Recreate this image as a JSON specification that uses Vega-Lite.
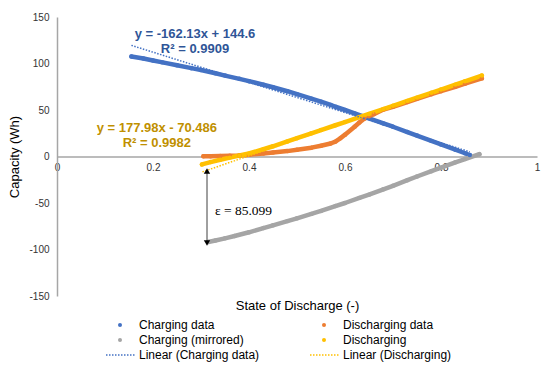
{
  "$schema": "https://vega.github.io/schema/vega-lite/v6.json",
  "width": 480,
  "height": 279,
  "autosize": {"type": "none"},
  "padding": {"left": 57, "top": 17, "right": 13, "bottom": 75},
  "background": "white",
  "config": {
    "view": {"stroke": null},
    "font": "Liberation Sans",
    "axis": {"grid": false, "ticks": false, "domainColor": "#A6A6A6", "domainWidth": 1.5, "labelFont": "Liberation Sans", "labelFontSize": 10, "labelColor": "#333333", "titleFont": "Liberation Sans", "titleFontSize": 13, "titleFontWeight": "normal", "titleColor": "#000000"}
  },
  "datasets": {
    "series": [
      {"series": "Charging data", "x": 0.155, "y": 107.5},
      {"series": "Charging data", "x": 0.18, "y": 105.3},
      {"series": "Charging data", "x": 0.2, "y": 103.2},
      {"series": "Charging data", "x": 0.22, "y": 101.2},
      {"series": "Charging data", "x": 0.25, "y": 98.2},
      {"series": "Charging data", "x": 0.28, "y": 95},
      {"series": "Charging data", "x": 0.3, "y": 93},
      {"series": "Charging data", "x": 0.33, "y": 89.5},
      {"series": "Charging data", "x": 0.35, "y": 87},
      {"series": "Charging data", "x": 0.38, "y": 83.5},
      {"series": "Charging data", "x": 0.4, "y": 81},
      {"series": "Charging data", "x": 0.43, "y": 77.2},
      {"series": "Charging data", "x": 0.45, "y": 74.5},
      {"series": "Charging data", "x": 0.48, "y": 70.2},
      {"series": "Charging data", "x": 0.5, "y": 67},
      {"series": "Charging data", "x": 0.53, "y": 62.2},
      {"series": "Charging data", "x": 0.55, "y": 59},
      {"series": "Charging data", "x": 0.57, "y": 55.5},
      {"series": "Charging data", "x": 0.58, "y": 53.5},
      {"series": "Charging data", "x": 0.6, "y": 50},
      {"series": "Charging data", "x": 0.62, "y": 46.3},
      {"series": "Charging data", "x": 0.65, "y": 41},
      {"series": "Charging data", "x": 0.68, "y": 35.5},
      {"series": "Charging data", "x": 0.7, "y": 32},
      {"series": "Charging data", "x": 0.73, "y": 26.3},
      {"series": "Charging data", "x": 0.75, "y": 22.5},
      {"series": "Charging data", "x": 0.78, "y": 16.8},
      {"series": "Charging data", "x": 0.8, "y": 13},
      {"series": "Charging data", "x": 0.83, "y": 7.3},
      {"series": "Charging data", "x": 0.85, "y": 3.5},
      {"series": "Charging data", "x": 0.86, "y": 1.5},
      {"series": "Discharging data", "x": 0.305, "y": 0.3},
      {"series": "Discharging data", "x": 0.32, "y": 0.3},
      {"series": "Discharging data", "x": 0.34, "y": 0.5},
      {"series": "Discharging data", "x": 0.36, "y": 0.8},
      {"series": "Discharging data", "x": 0.38, "y": 1.2},
      {"series": "Discharging data", "x": 0.4, "y": 2},
      {"series": "Discharging data", "x": 0.43, "y": 3.2},
      {"series": "Discharging data", "x": 0.45, "y": 4.2},
      {"series": "Discharging data", "x": 0.48, "y": 5.8},
      {"series": "Discharging data", "x": 0.5, "y": 7.2},
      {"series": "Discharging data", "x": 0.53, "y": 9.5},
      {"series": "Discharging data", "x": 0.55, "y": 11.5},
      {"series": "Discharging data", "x": 0.57, "y": 14},
      {"series": "Discharging data", "x": 0.58, "y": 16},
      {"series": "Discharging data", "x": 0.59, "y": 19.5},
      {"series": "Discharging data", "x": 0.6, "y": 23.5},
      {"series": "Discharging data", "x": 0.62, "y": 32},
      {"series": "Discharging data", "x": 0.63, "y": 36.5},
      {"series": "Discharging data", "x": 0.64, "y": 40.5},
      {"series": "Discharging data", "x": 0.65, "y": 43.3},
      {"series": "Discharging data", "x": 0.66, "y": 45.5},
      {"series": "Discharging data", "x": 0.68, "y": 50.5},
      {"series": "Discharging data", "x": 0.7, "y": 53.5},
      {"series": "Discharging data", "x": 0.73, "y": 58.5},
      {"series": "Discharging data", "x": 0.75, "y": 62},
      {"series": "Discharging data", "x": 0.78, "y": 67},
      {"series": "Discharging data", "x": 0.8, "y": 70.2},
      {"series": "Discharging data", "x": 0.83, "y": 75},
      {"series": "Discharging data", "x": 0.85, "y": 78.3},
      {"series": "Discharging data", "x": 0.885, "y": 84},
      {"series": "Charging (mirrored)", "x": 0.315, "y": -92},
      {"series": "Charging (mirrored)", "x": 0.33, "y": -90.3},
      {"series": "Charging (mirrored)", "x": 0.35, "y": -88},
      {"series": "Charging (mirrored)", "x": 0.37, "y": -85.5},
      {"series": "Charging (mirrored)", "x": 0.4, "y": -81.5},
      {"series": "Charging (mirrored)", "x": 0.43, "y": -77},
      {"series": "Charging (mirrored)", "x": 0.45, "y": -74},
      {"series": "Charging (mirrored)", "x": 0.48, "y": -69.5},
      {"series": "Charging (mirrored)", "x": 0.5, "y": -66.5},
      {"series": "Charging (mirrored)", "x": 0.53, "y": -61.7},
      {"series": "Charging (mirrored)", "x": 0.55, "y": -58.5},
      {"series": "Charging (mirrored)", "x": 0.58, "y": -53.3},
      {"series": "Charging (mirrored)", "x": 0.6, "y": -50},
      {"series": "Charging (mirrored)", "x": 0.63, "y": -44.5},
      {"series": "Charging (mirrored)", "x": 0.65, "y": -41},
      {"series": "Charging (mirrored)", "x": 0.68, "y": -35.3},
      {"series": "Charging (mirrored)", "x": 0.7, "y": -31.5},
      {"series": "Charging (mirrored)", "x": 0.73, "y": -25.5},
      {"series": "Charging (mirrored)", "x": 0.75, "y": -21.5},
      {"series": "Charging (mirrored)", "x": 0.78, "y": -15.8},
      {"series": "Charging (mirrored)", "x": 0.8, "y": -12},
      {"series": "Charging (mirrored)", "x": 0.83, "y": -6.3},
      {"series": "Charging (mirrored)", "x": 0.85, "y": -2.8},
      {"series": "Charging (mirrored)", "x": 0.88, "y": 2.5},
      {"series": "Discharging", "x": 0.302, "y": -8.5},
      {"series": "Discharging", "x": 0.32, "y": -6},
      {"series": "Discharging", "x": 0.34, "y": -3.5},
      {"series": "Discharging", "x": 0.36, "y": -1.2},
      {"series": "Discharging", "x": 0.38, "y": 1},
      {"series": "Discharging", "x": 0.4, "y": 3.3},
      {"series": "Discharging", "x": 0.43, "y": 7.8},
      {"series": "Discharging", "x": 0.45, "y": 11},
      {"series": "Discharging", "x": 0.48, "y": 16.2},
      {"series": "Discharging", "x": 0.5, "y": 19.7},
      {"series": "Discharging", "x": 0.53, "y": 24.9},
      {"series": "Discharging", "x": 0.55, "y": 28.4},
      {"series": "Discharging", "x": 0.58, "y": 33.6},
      {"series": "Discharging", "x": 0.6, "y": 37},
      {"series": "Discharging", "x": 0.63, "y": 42.3},
      {"series": "Discharging", "x": 0.65, "y": 45.8},
      {"series": "Discharging", "x": 0.68, "y": 51},
      {"series": "Discharging", "x": 0.7, "y": 54.5},
      {"series": "Discharging", "x": 0.73, "y": 59.8},
      {"series": "Discharging", "x": 0.75, "y": 63.3},
      {"series": "Discharging", "x": 0.78, "y": 68.5},
      {"series": "Discharging", "x": 0.8, "y": 72},
      {"series": "Discharging", "x": 0.83, "y": 77.3},
      {"series": "Discharging", "x": 0.85, "y": 80.8},
      {"series": "Discharging", "x": 0.885, "y": 87}
    ],
    "trends": [
      {"series": "Linear (Charging data)", "x": 0.155, "y": 119.5},
      {"series": "Linear (Charging data)", "x": 0.86, "y": 5},
      {"series": "Linear (Discharging)", "x": 0.303, "y": -16.5},
      {"series": "Linear (Discharging)", "x": 0.885, "y": 87}
    ],
    "equations": [
      {"fit": "Linear (Charging data)", "x": 0.2875, "y": 131.8, "text": "y = -162.13x + 144.6"},
      {"fit": "Linear (Charging data)", "x": 0.2875, "y": 115.7, "text": "R² = 0.9909"},
      {"fit": "Linear (Discharging)", "x": 0.208, "y": 31, "text": "y = 177.98x - 70.486"},
      {"fit": "Linear (Discharging)", "x": 0.208, "y": 15, "text": "R² = 0.9982"}
    ],
    "gap": [
      {"x": 0.3125, "ytop": -15.5, "ybottom": -93, "text": "ε = 85.099", "tx": 0.329, "ty": -58.6}
    ]
  },
  "layer": [
    {
      "data": {"name": "series"},
      "mark": {"type": "line", "strokeWidth": 4.5, "strokeCap": "round", "strokeJoin": "round"},
      "encoding": {
        "x": {"field": "x", "type": "quantitative", "scale": {"domain": [0, 1], "nice": false}, "axis": {"orient": "bottom", "offset": -139.5, "values": [0, 0.2, 0.4, 0.6, 0.8, 1], "labelExpr": "'' + datum.value", "labelFlush": false, "labelPadding": 6, "title": "State of Discharge (-)", "titleBaseline": "middle", "titleY": 148.5}},
        "y": {"field": "y", "type": "quantitative", "scale": {"domain": [-150, 150], "nice": false}, "axis": {"values": [-150, -100, -50, 0, 50, 100, 150], "labelExpr": "'' + datum.value", "labelFlush": false, "labelPadding": 8, "title": "Capacity (Wh)", "titlePadding": 7}},
        "stroke": {"field": "series", "type": "nominal", "scale": {"domain": ["Charging data", "Discharging data", "Charging (mirrored)", "Discharging"], "range": ["#4472C4", "#ED7D31", "#A5A5A5", "#FFC000"]}, "legend": null},
        "detail": {"field": "series"},
        "order": {"field": "x", "type": "quantitative"}
      }
    },
    {
      "data": {"name": "series"},
      "mark": {"type": "point", "filled": true, "opacity": 1, "size": 20},
      "encoding": {
        "x": {"field": "x", "type": "quantitative"},
        "y": {"field": "y", "type": "quantitative"},
        "color": {"field": "series", "type": "nominal", "title": null, "scale": {"domain": ["Charging data", "Discharging data", "Charging (mirrored)", "Discharging", "Linear (Charging data)", "Linear (Discharging)"], "range": ["#4472C4", "#ED7D31", "#A5A5A5", "#FFC000", "#4472C4", "#FFC000"]},
          "legend": {"orient": "none", "legendX": 57, "legendY": 302, "columns": 2, "direction": "horizontal", "symbolSize": 16, "symbolStrokeWidth": 0, "labelFontSize": 12, "labelColor": "#000000", "labelFont": "Liberation Sans", "labelOffset": 13, "rowPadding": 3, "columnPadding": 50, "padding": 0}},
        "shape": {"field": "series", "type": "nominal", "title": null, "scale": {"domain": ["Charging data", "Discharging data", "Charging (mirrored)", "Discharging", "Linear (Charging data)", "Linear (Discharging)"], "range": ["circle", "circle", "circle", "circle", "M-7,-0.4h0.75v0.8h-0.75Z M-5.5,-0.4h0.75v0.8h-0.75Z M-4,-0.4h0.75v0.8h-0.75Z M-2.5,-0.4h0.75v0.8h-0.75Z M-1,-0.4h0.75v0.8h-0.75Z M0.5,-0.4h0.75v0.8h-0.75Z M2,-0.4h0.75v0.8h-0.75Z M3.5,-0.4h0.75v0.8h-0.75Z M5,-0.4h0.75v0.8h-0.75Z M6.5,-0.4h0.75v0.8h-0.75Z", "M-7,-0.4h0.75v0.8h-0.75Z M-5.5,-0.4h0.75v0.8h-0.75Z M-4,-0.4h0.75v0.8h-0.75Z M-2.5,-0.4h0.75v0.8h-0.75Z M-1,-0.4h0.75v0.8h-0.75Z M0.5,-0.4h0.75v0.8h-0.75Z M2,-0.4h0.75v0.8h-0.75Z M3.5,-0.4h0.75v0.8h-0.75Z M5,-0.4h0.75v0.8h-0.75Z M6.5,-0.4h0.75v0.8h-0.75Z"]}}
      }
    },
    {
      "data": {"name": "trends"},
      "transform": [{"filter": "datum.series === 'Linear (Charging data)'"}],
      "mark": {"type": "line", "color": "#4472C4", "strokeWidth": 1.5, "strokeDash": [1.5, 1.5]},
      "encoding": {"x": {"field": "x", "type": "quantitative"}, "y": {"field": "y", "type": "quantitative"}}
    },
    {
      "data": {"name": "trends"},
      "transform": [{"filter": "datum.series === 'Linear (Discharging)'"}],
      "mark": {"type": "line", "color": "#FFC000", "strokeWidth": 1.5, "strokeDash": [1.5, 1.5]},
      "encoding": {"x": {"field": "x", "type": "quantitative"}, "y": {"field": "y", "type": "quantitative"}}
    },
    {
      "data": {"name": "equations"},
      "transform": [{"filter": "datum.fit === 'Linear (Charging data)'"}],
      "mark": {"type": "text", "font": "Liberation Sans", "fontSize": 13, "fontWeight": "bold", "color": "#2F5597", "align": "center", "baseline": "middle"},
      "encoding": {"x": {"field": "x", "type": "quantitative"}, "y": {"field": "y", "type": "quantitative"}, "text": {"field": "text"}}
    },
    {
      "data": {"name": "equations"},
      "transform": [{"filter": "datum.fit === 'Linear (Discharging)'"}],
      "mark": {"type": "text", "font": "Liberation Sans", "fontSize": 13, "fontWeight": "bold", "color": "#BF9000", "align": "center", "baseline": "middle"},
      "encoding": {"x": {"field": "x", "type": "quantitative"}, "y": {"field": "y", "type": "quantitative"}, "text": {"field": "text"}}
    },
    {
      "data": {"name": "gap"},
      "mark": {"type": "rule", "color": "#404040", "strokeWidth": 1},
      "encoding": {"x": {"field": "x", "type": "quantitative"}, "y": {"field": "ytop", "type": "quantitative"}, "y2": {"field": "ybottom"}}
    },
    {
      "data": {"name": "gap"},
      "mark": {"type": "point", "shape": "triangle-up", "filled": true, "opacity": 1, "color": "#000000", "size": 40},
      "encoding": {"x": {"field": "x", "type": "quantitative"}, "y": {"field": "ytop", "type": "quantitative"}}
    },
    {
      "data": {"name": "gap"},
      "mark": {"type": "point", "shape": "triangle-down", "filled": true, "opacity": 1, "color": "#000000", "size": 40},
      "encoding": {"x": {"field": "x", "type": "quantitative"}, "y": {"field": "ybottom", "type": "quantitative"}}
    },
    {
      "data": {"name": "gap"},
      "mark": {"type": "text", "font": "Liberation Serif", "fontSize": 13.5, "color": "#000000", "align": "left", "baseline": "middle"},
      "encoding": {"x": {"field": "tx", "type": "quantitative"}, "y": {"field": "ty", "type": "quantitative"}, "text": {"field": "text"}}
    }
  ]
}
